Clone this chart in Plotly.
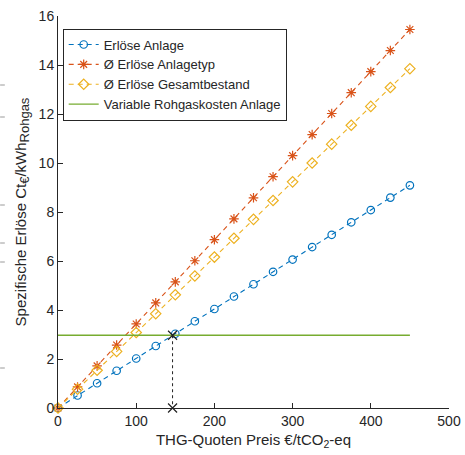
import plotly.graph_objects as go

price = [0, 25, 50, 75, 100, 125, 150, 175, 200, 225, 250, 275, 300, 325, 350, 375, 400, 425, 450]
erloese_anlage = [0, 0.51, 1.01, 1.52, 2.02, 2.53, 3.03, 3.54, 4.04, 4.55, 5.05, 5.56, 6.06, 6.57, 7.07, 7.58, 8.08, 8.59, 9.09]
erloese_anlagetyp = [0, 0.86, 1.72, 2.57, 3.43, 4.29, 5.15, 6.01, 6.87, 7.72, 8.58, 9.44, 10.30, 11.16, 12.02, 12.87, 13.73, 14.59, 15.45]
erloese_gesamt = [0, 0.77, 1.54, 2.31, 3.08, 3.85, 4.62, 5.39, 6.16, 6.93, 7.70, 8.47, 9.23, 10.00, 10.77, 11.54, 12.31, 13.08, 13.85]
kosten_x = [0, 450]
kosten_y = [2.97, 2.97]
cross_x = [146.5, 146.5]
cross_y = [2.97, 0]

x_ticks = [0, 100, 200, 300, 400, 500]
y_ticks = [0, 2, 4, 6, 8, 10, 12, 14, 16]

BLUE = "#0072BD"
ORANGE = "#D95319"
YELLOW = "#EDB120"
GREEN = "#77AC30"
FONT = "Liberation Sans, Arial, sans-serif"
DASH = "5px,4px"

fig = go.Figure()
fig.add_trace(go.Scatter(
    x=price, y=erloese_anlage, mode="lines+markers", name="Erlöse Anlage",
    line=dict(color=BLUE, dash=DASH, width=1.1),
    marker=dict(symbol="circle-open", size=7.5, color=BLUE, line=dict(width=1.2)),
    cliponaxis=False))
fig.add_trace(go.Scatter(
    x=price, y=erloese_anlagetyp, mode="lines+markers", name="Ø Erlöse Anlagetyp",
    line=dict(color=ORANGE, dash=DASH, width=1.1),
    marker=dict(symbol="asterisk-open", size=8, color=ORANGE, line=dict(width=1.2, color=ORANGE)),
    cliponaxis=False))
fig.add_trace(go.Scatter(
    x=price, y=erloese_gesamt, mode="lines+markers", name="Ø Erlöse Gesamtbestand",
    line=dict(color=YELLOW, dash=DASH, width=1.1),
    marker=dict(symbol="diamond-open", size=8, color=YELLOW, line=dict(width=1.2)),
    cliponaxis=False))
fig.add_trace(go.Scatter(
    x=kosten_x, y=kosten_y, mode="lines", name="Variable Rohgaskosten Anlage",
    line=dict(color=GREEN, width=1.3), cliponaxis=False))
fig.add_trace(go.Scatter(
    x=cross_x, y=cross_y, mode="lines+markers", showlegend=False,
    line=dict(color="#222222", dash="dot", width=1),
    marker=dict(symbol="x-thin-open", size=9, color="#222222", line=dict(width=1.2, color="#222222")),
    cliponaxis=False))

# small gray edge marks at the left border
shapes = []
for py in [85, 117, 205, 243, 262, 368]:
    yp = (408 - py) / 392
    shapes.append(dict(type="line", xref="paper", yref="paper",
                       x0=-0.148, x1=-0.136, y0=yp, y1=yp,
                       line=dict(color="#9a9a9a", width=1)))

SUB = '<sub><span style="font-size:13px">{}</span></sub>'

fig.update_layout(
    width=465, height=455,
    margin=dict(l=58, r=16, t=16, b=47, autoexpand=False),
    paper_bgcolor="white", plot_bgcolor="white",
    font=dict(family=FONT, size=14, color="#262626"),
    showlegend=True,
    legend=dict(x=0.012, y=0.968, xanchor="left", yanchor="top",
                bordercolor="#262626", borderwidth=1, bgcolor="white",
                font=dict(size=13, color="#262626"), tracegroupgap=0,
                itemwidth=30),
    shapes=shapes,
    xaxis=dict(range=[0, 500], tickvals=x_ticks, ticks="inside", ticklen=5,
               showline=True, linecolor="#262626", linewidth=1, tickcolor="#262626",
               showgrid=False, zeroline=False, mirror=False, automargin=False,
               tickfont=dict(size=14),
               title=dict(text="THG-Quoten Preis €/tCO<sub>2</sub>-eq", font=dict(size=15), standoff=6)),
    yaxis=dict(range=[0, 16], tickvals=y_ticks, ticks="inside", ticklen=5,
               showline=True, linecolor="#262626", linewidth=1, tickcolor="#262626",
               showgrid=False, zeroline=False, mirror=False, automargin=False,
               tickfont=dict(size=14),
               title=dict(text="Spezifische Erlöse Ct" + SUB.format("€") + "/kWh" + SUB.format("Rohgas"),
                          font=dict(size=15), standoff=8)),
)

fig.write_html("out.html")
